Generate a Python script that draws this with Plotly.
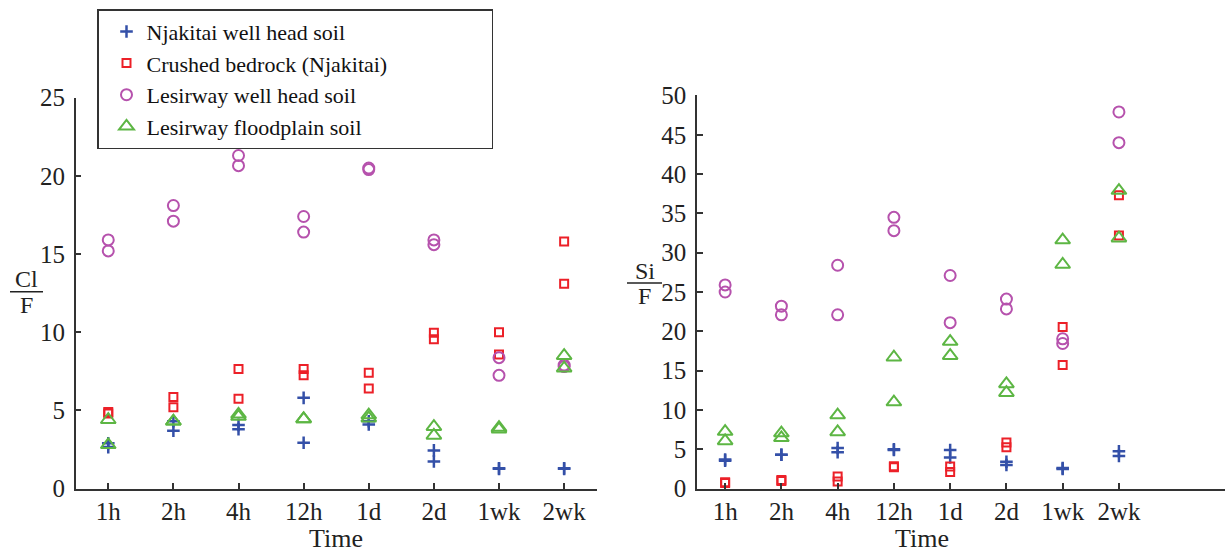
import plotly.graph_objects as go

categories = ["1h", "2h", "4h", "12h", "1d", "2d", "1wk", "2wk"]
series_names = ["Njakitai well head soil", "Crushed bedrock (Njakitai)",
                "Lesirway well head soil", "Lesirway floodplain soil"]

# Cl/F replicate values (two per time point)
cl_njakitai = [[2.65, 2.9], [4.3, 3.7], [4.07, 3.8], [5.8, 2.93], [4.1, 4.3], [2.44, 1.73], [1.26, 1.3], [1.26, 1.3]]
cl_bedrock = [[4.9, 4.8], [5.85, 5.2], [7.65, 5.75], [7.65, 7.25], [7.4, 6.4], [9.96, 9.55], [10.0, 8.58], [15.8, 13.1]]
cl_lesirway = [[15.9, 15.2], [18.1, 17.1], [21.3, 20.65], [17.4, 16.4], [20.5, 20.4], [15.9, 15.6], [8.37, 7.24], [7.9, 7.8]]
cl_flood = [[4.4, 2.8], [4.3, 4.3], [4.75, 4.6], [4.45, 4.45], [4.7, 4.5], [3.96, 3.4], [3.9, 3.8], [8.5, 7.7]]

# Si/F replicate values
si_njakitai = [[3.55, 3.7], [4.3, 4.3], [5.16, 4.63], [5.0, 4.9], [4.9, 3.95], [3.4, 3.0], [2.6, 2.5], [4.75, 4.15]]
si_bedrock = [[0.8, 0.7], [1.09, 0.95], [1.53, 0.89], [2.82, 2.7], [2.8, 2.1], [5.85, 5.25], [20.55, 15.7], [37.3, 32.2]]
si_lesirway = [[25.9, 25.0], [23.2, 22.1], [28.4, 22.1], [34.5, 32.8], [27.1, 21.1], [24.1, 22.85], [19.05, 18.45], [47.9, 44.0]]
si_flood = [[7.25, 6.05], [7.05, 6.45], [9.35, 7.2], [16.7, 11.0], [18.7, 16.9], [13.3, 12.2], [31.6, 28.5], [37.9, 31.85]]

styles = [
    dict(symbol="cross-thin-open", size=9, color="#3450a8", lw=2.5),
    dict(symbol="square-open", size=8, color="#ec2028", lw=2),
    dict(symbol="circle-open", size=11, color="#b652ad", lw=2),
    dict(symbol="triangle-up-open", size=13, color="#5db644", lw=2),
]

FONT = "Liberation Serif, DejaVu Serif, serif"
AX = "#333333"
TXT = "#222222"
PAD = "\u00a0" * 18  # widens the legend box to match the reference frame


def flatten(vals):
    xs, ys = [], []
    for i, pair in enumerate(vals):
        for v in pair:
            xs.append(i + 1)
            ys.append(v)
    return xs, ys


fig = go.Figure()
for name, vals, st in zip(series_names, [cl_njakitai, cl_bedrock, cl_lesirway, cl_flood], styles):
    xs, ys = flatten(vals)
    label = name + PAD if name == series_names[1] else name
    fig.add_trace(go.Scatter(x=xs, y=ys, mode="markers", name=label, xaxis="x", yaxis="y",
                             marker=dict(symbol=st["symbol"], size=st["size"], color=st["color"],
                                         line=dict(color=st["color"], width=st["lw"])),
                             showlegend=True))
for name, vals, st in zip(series_names, [si_njakitai, si_bedrock, si_lesirway, si_flood], styles):
    xs, ys = flatten(vals)
    fig.add_trace(go.Scatter(x=xs, y=ys, mode="markers", name=name, xaxis="x2", yaxis="y2",
                             marker=dict(symbol=st["symbol"], size=st["size"], color=st["color"],
                                         line=dict(color=st["color"], width=st["lw"])),
                             showlegend=False))

W, H = 1225, 552
tickvals = list(range(1, len(categories) + 1))
common_x = dict(tickmode="array", tickvals=tickvals, ticktext=categories, showgrid=False, zeroline=False,
                showline=True, linecolor=AX, linewidth=1.5, ticks="inside", ticklen=6, tickwidth=1.5,
                tickcolor=AX, tickfont=dict(family=FONT, size=25, color=TXT), ticklabelstandoff=0)
common_y = dict(showgrid=False, zeroline=False, showline=True, linecolor=AX, linewidth=1.5,
                ticks="inside", ticklen=6, tickwidth=1.5, tickcolor=AX,
                tickfont=dict(family=FONT, size=25, color=TXT), ticklabelstandoff=4)

fig.update_layout(
    width=W, height=H,
    margin=dict(l=0, r=0, t=0, b=0),
    paper_bgcolor="white", plot_bgcolor="white",
    font=dict(family=FONT, color=TXT),
    xaxis=dict(domain=[75.7 / W, 596.7 / W], range=[0.5, 8.5], anchor="y", **common_x),
    yaxis=dict(domain=[(H - 500) / H, (H - 89) / H], range=[0, 25], tickvals=[0, 5, 10, 15, 20, 25],
               anchor="x", **common_y),
    xaxis2=dict(domain=[697 / W, 1.0], range=[0.5, 8.5 + (1225 - 1147) / 56.3], anchor="y2", **common_x),
    yaxis2=dict(domain=[(H - 500) / H, (H - 86.7) / H], range=[0, 50],
                tickvals=[0, 5, 10, 15, 20, 25, 30, 35, 40, 45, 50], anchor="x2", **common_y),
    legend=dict(x=97 / W, y=1 + 4 / H, xanchor="left", yanchor="top",
                bordercolor=AX, borderwidth=1.5, bgcolor="white",
                font=dict(family=FONT, size=22, color="#111"), indentation=8,
                tracegroupgap=0, itemsizing="trace"),
    showlegend=True,
)

annotations = [
    dict(text="Time", xref="x", yref="paper", x=4.5, y=0, xanchor="center", yanchor="middle",
         showarrow=False, font=dict(family=FONT, size=26, color=TXT)),
    dict(text="Time", xref="x2", yref="paper", x=4.5, y=0, xanchor="center", yanchor="middle",
         showarrow=False, font=dict(family=FONT, size=26, color=TXT)),
    dict(text="Cl", xref="paper", yref="paper", x=26.5 / W, y=(H - 280) / H, xanchor="center", yanchor="middle",
         showarrow=False, font=dict(family=FONT, size=24, color=TXT)),
    dict(text="F", xref="paper", yref="paper", x=26.5 / W, y=(H - 307) / H, xanchor="center", yanchor="middle",
         showarrow=False, font=dict(family=FONT, size=24, color=TXT)),
    dict(text="Si", xref="paper", yref="paper", x=644.5 / W, y=(H - 271) / H, xanchor="center", yanchor="middle",
         showarrow=False, font=dict(family=FONT, size=24, color=TXT)),
    dict(text="F", xref="paper", yref="paper", x=644.5 / W, y=(H - 298) / H, xanchor="center", yanchor="middle",
         showarrow=False, font=dict(family=FONT, size=24, color=TXT)),
]
fig.update_layout(annotations=annotations)
fig.add_shape(type="line", xref="paper", yref="paper", x0=10 / W, x1=43 / W, y0=(H - 293) / H, y1=(H - 293) / H,
              line=dict(color=TXT, width=1.5))
fig.add_shape(type="line", xref="paper", yref="paper", x0=627 / W, x1=662 / W, y0=(H - 284) / H, y1=(H - 284) / H,
              line=dict(color=TXT, width=1.5))

fig.write_html("out.html")
